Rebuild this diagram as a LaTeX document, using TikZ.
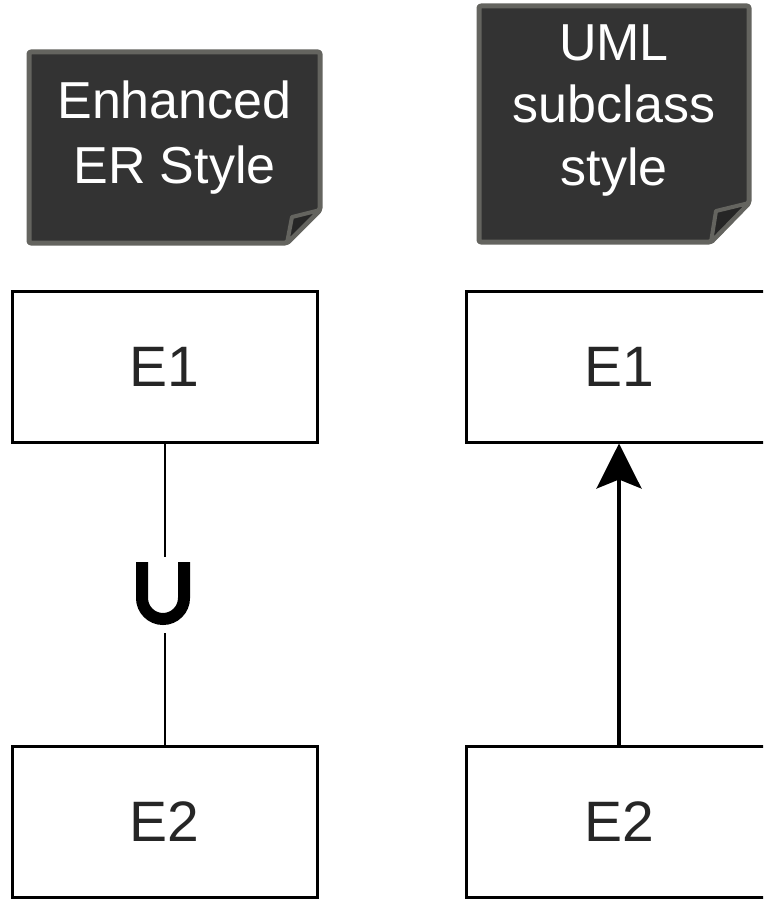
\documentclass[tikz,border=0pt]{standalone}
\usepackage{fontspec}
\setmainfont{Liberation Sans}
\usetikzlibrary{arrows.meta}
\definecolor{notefill}{RGB}{51,51,51}
\definecolor{noteline}{RGB}{100,100,95}
\definecolor{flapfill}{RGB}{38,38,38}
\tikzset{
  notebody/.style={fill=notefill,draw=noteline,line width=5pt,rounded corners=2pt,line join=round},
  noteflap/.style={fill=flapfill,draw=noteline,line width=4pt,line join=round},
  notetext/.style={text=white,font=\fontsize{52}{60}\selectfont,anchor=base,inner sep=0pt},
  entity/.style={draw=black,fill=white,line width=3pt,minimum width=305pt,minimum height=151pt,inner sep=0pt,font=\fontsize{57}{60}\selectfont,text=black!85},
  conn/.style={line width=2pt,draw=black},
  ushape/.style={line width=12pt,line cap=butt,draw=black},
  isa/.style={line width=3.5pt,draw=black,-{Stealth[length=45pt,width=45pt,inset=9pt]}}
}
\begin{document}
\begin{tikzpicture}[x=1pt,y=-1pt]
\useasboundingbox (0,0) rectangle (763,899);
\clip (0,0) rectangle (763,899);
% note 1
\draw[notebody] (29,52) -- (320,52) -- (320,210) -- (287,243) -- (29,243) -- cycle;
\draw[noteflap] (320,210) -- (292,217) -- (287,243) -- cycle;
\node[notetext] (t1a) at (174.5,118) {Enhanced};
\node[notetext] (t1b) at (174.5,183) {ER Style};
% note 2
\draw[notebody] (479,6) -- (749,6) -- (749,203) -- (711,242) -- (479,242) -- cycle;
\draw[noteflap] (749,203) -- (716,211) -- (711,242) -- cycle;
\node[notetext] (t2a) at (614,60) {UML};
\node[notetext] (t2b) at (614,122) {subclass};
\node[notetext] (t2c) at (614,185) {style};
% entities
\node[entity] (L1) at (164.5,366.5) {E1};
\node[entity] (L2) at (164.5,821.5) {E2};
\node[entity] (R1) at (619,366.5) {E1};
\node[entity] (R2) at (619,821.5) {E2};
% EER connector with U
\coordinate (utop) at (164.5,557);
\coordinate (ubot) at (164.5,633);
\draw[conn] (L1.south) -- (utop);
\draw[conn] (ubot) -- (L2.north);
\draw[ushape] (142,562) -- (142,598) arc[start angle=180,end angle=0,radius=21] -- (184,562);
% UML arrow
\draw[isa] (R2.north) -- (R1.south);
\end{tikzpicture}
\end{document}
